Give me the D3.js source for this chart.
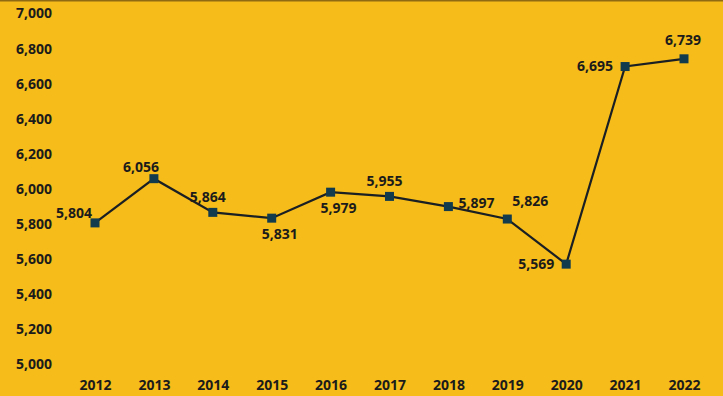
<!DOCTYPE html>
<meta charset="utf-8">
<style>
  body { margin: 0; background: #f5bc1a; }
  svg { display: block; }
  .tick text { font-family: "Open Sans", sans-serif; font-weight: bold; font-size: 14px; fill: #1b1b1b; }
  .lbl { font-family: "Open Sans", sans-serif; font-weight: bold; font-size: 14px; fill: #1b1b1b; }
</style>
<body>
<script src="https://d3js.org/d3.v7.min.js"></script>
<script>

// chart data
var years = [2012, 2013, 2014, 2015, 2016, 2017, 2018, 2019, 2020, 2021, 2022];
var values = [5804, 6056, 5864, 5831, 5979, 5955, 5897, 5826, 5569, 6695, 6739];
var yTicks = [5000, 5200, 5400, 5600, 5800, 6000, 6200, 6400, 6600, 6800, 7000];
// where each value label sits relative to its point
var labelPos = ["leftUp", "aboveLeft", "above", "below", "below", "above", "right", "aboveRight", "left", "left", "aboveHigh"];

var width = 723, height = 396;

var svg = d3.select("body").append("svg")
    .attr("width", width)
    .attr("height", height);

svg.append("rect")
    .attr("width", width)
    .attr("height", height)
    .attr("fill", "#f5bc1a");
svg.append("rect")
    .attr("width", width)
    .attr("height", 1.5)
    .attr("fill", "#8f6a12");

var x = d3.scalePoint().domain(years).range([95, 684]);
var y = d3.scaleLinear().domain([5000, 7000]).range([364, 13]);

// y axis (labels only)
svg.append("g")
    .attr("transform", "translate(52,0)")
    .call(d3.axisLeft(y).tickValues(yTicks).tickFormat(d3.format(",")).tickSize(0).tickPadding(0))
    .call(function(g) { g.select(".domain").remove(); })
    .selectAll("text").attr("dy", "0.35em");

// x axis (labels only)
svg.append("g")
    .attr("transform", "translate(0,385)")
    .call(d3.axisBottom(x).tickFormat(d3.format("d")).tickSize(0).tickPadding(0))
    .call(function(g) { g.select(".domain").remove(); })
    .selectAll("text").attr("dy", "0.35em");

var data = years.map(function(yr, i) { return {year: yr, value: values[i], pos: labelPos[i]}; });

var line = d3.line()
    .x(function(d) { return x(d.year); })
    .y(function(d) { return y(d.value); });

svg.append("path")
    .datum(data)
    .attr("d", line)
    .attr("fill", "none")
    .attr("stroke", "#1a1f24")
    .attr("stroke-width", 2.2);

svg.selectAll(".pt")
    .data(data)
  .enter().append("rect")
    .attr("class", "pt")
    .attr("x", function(d) { return x(d.year) - 4.5; })
    .attr("y", function(d) { return y(d.value) - 4.5; })
    .attr("width", 9)
    .attr("height", 9)
    .attr("fill", "#123c4e");

var offsets = {
  leftUp:     {dx: -3,  dy: -10, anchor: "end"},
  left:       {dx: -12, dy: 0,   anchor: "end"},
  aboveLeft:  {dx: -13, dy: -12, anchor: "middle"},
  above:      {dx: -5,  dy: -15, anchor: "middle"},
  aboveHigh:  {dx: -1,  dy: -19, anchor: "middle"},
  below:      {dx: 8,   dy: 16,  anchor: "middle"},
  right:      {dx: 10,  dy: -3,  anchor: "start"},
  aboveRight: {dx: 5,   dy: -18, anchor: "start"}
};

svg.selectAll(".lbl")
    .data(data)
  .enter().append("text")
    .attr("class", "lbl")
    .attr("x", function(d) { return x(d.year) + offsets[d.pos].dx; })
    .attr("y", function(d) { return y(d.value) + offsets[d.pos].dy; })
    .attr("dy", "0.35em")
    .attr("text-anchor", function(d) { return offsets[d.pos].anchor; })
    .text(function(d) { return d3.format(",")(d.value); });

</script>
</body>
